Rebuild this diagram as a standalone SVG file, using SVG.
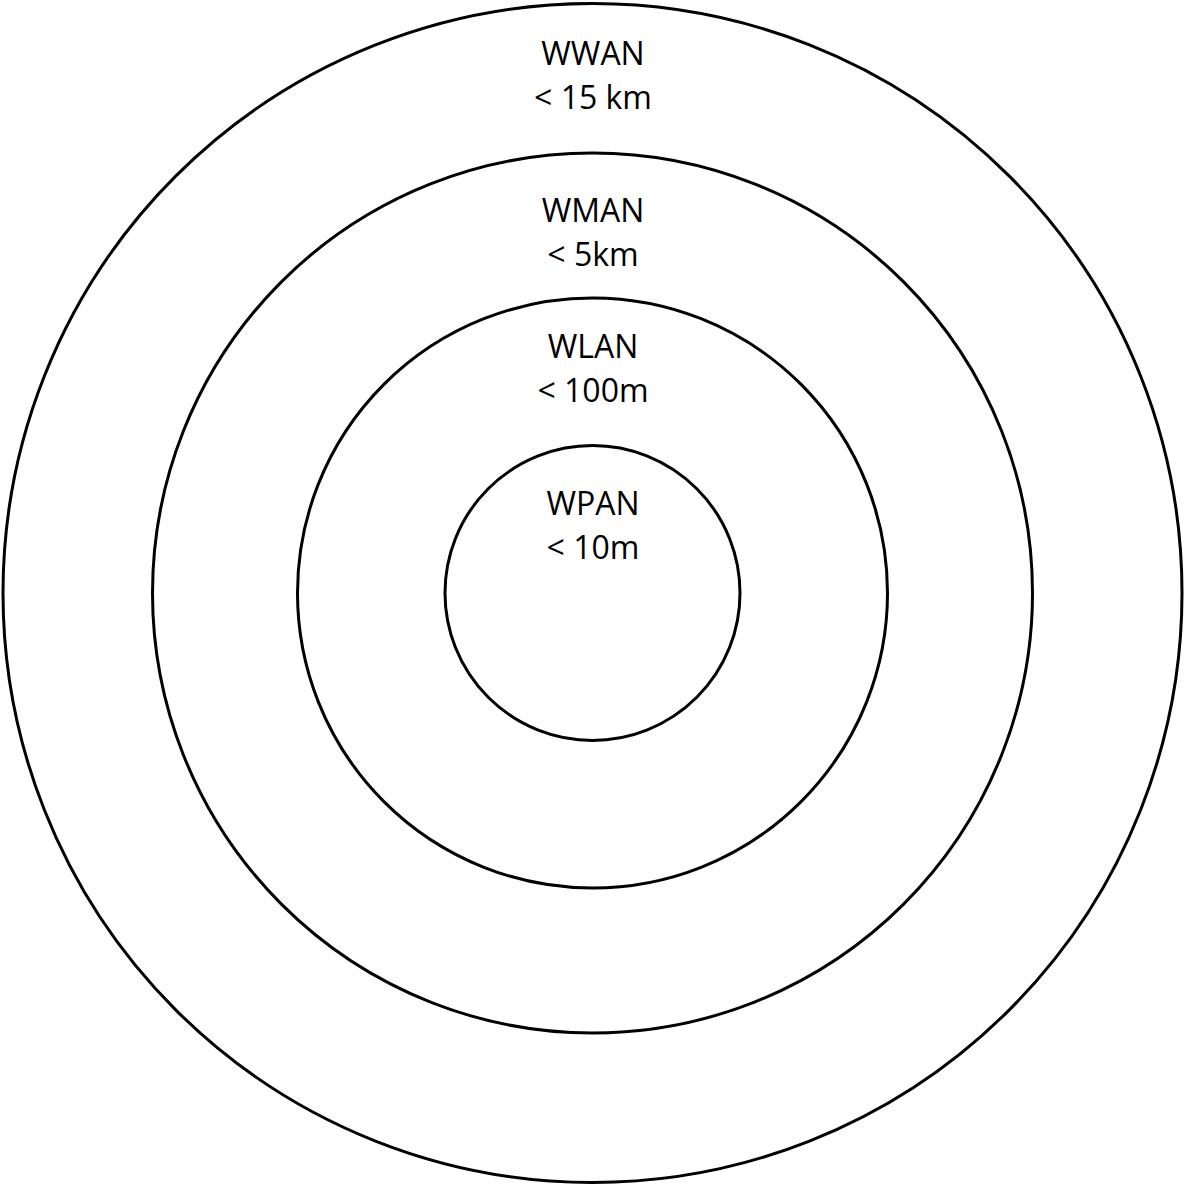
<svg xmlns="http://www.w3.org/2000/svg" width="1185" height="1185" viewBox="0 0 1185 1185">
<style>
.ring{fill:none;stroke:#000;stroke-width:3}
.lbl{font-family:"Open Sans","Liberation Sans",sans-serif;font-size:32px;fill:#000;text-anchor:middle}
</style>
<rect width="1185" height="1185" fill="#fff"/>
<g id="wwan"><circle class="ring" cx="592.5" cy="593" r="589.5"/><text class="lbl" x="593" y="65">WWAN</text><text class="lbl" x="593" y="109">&lt; 15 km</text></g>
<g id="wman"><circle class="ring" cx="592.5" cy="593" r="440"/><text class="lbl" x="593" y="222">WMAN</text><text class="lbl" x="593" y="266">&lt; 5km</text></g>
<g id="wlan"><circle class="ring" cx="592.5" cy="593" r="295"/><text class="lbl" x="593" y="358">WLAN</text><text class="lbl" x="593" y="402">&lt; 100m</text></g>
<g id="wpan"><circle class="ring" cx="592.5" cy="593" r="147.5"/><text class="lbl" x="593" y="515">WPAN</text><text class="lbl" x="593" y="559">&lt; 10m</text></g>
</svg>
